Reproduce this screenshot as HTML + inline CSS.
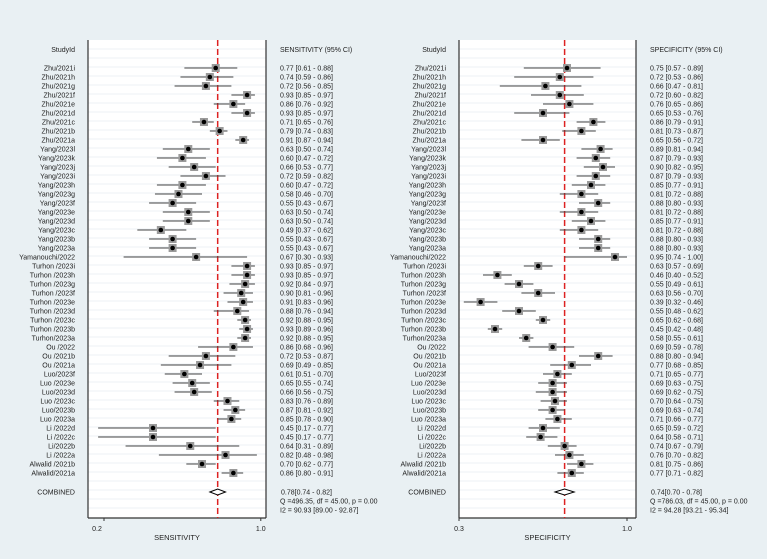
<!DOCTYPE html>
<html><head><meta charset="utf-8">
<style>
html,body{margin:0;padding:0;background:#e9f0f3;}
svg{display:block;font-family:"Liberation Sans",Arial,sans-serif;}
</style></head>
<body>
<svg id="c" width="767" height="559" xmlns="http://www.w3.org/2000/svg">
<rect x="0" y="0" width="767" height="559" fill="#e9f0f3"/>
</svg>
<script>
const studies=["Zhu/2021i","Zhu/2021h","Zhu/2021g","Zhu/2021f","Zhu/2021e","Zhu/2021d","Zhu/2021c","Zhu/2021b","Zhu/2021a","Yang/2023l","Yang/2023k","Yang/2023j","Yang/2023i","Yang/2023h","Yang/2023g","Yang/2023f","Yang/2023e","Yang/2023d","Yang/2023c","Yang/2023b","Yang/2023a","Yamanouchi/2022","Turhon /2023i","Turhon /2023h","Turhon /2023g","Turhon /2023f","Turhon /2023e","Turhon /2023d","Turhon /2023c","Turhon /2023b","Turhon/2023a","Ou /2022","Ou /2021b","Ou /2021a","Luo/2023f","Luo /2023e","Luo/2023d","Luo /2023c","Luo/2023b","Luo /2023a","Li /2022d","Li /2022c","Li/2022b","Li /2022a","Alwalid /2021b","Alwalid/2021a"];
const sens=[0.77,0.74,0.72,0.93,0.86,0.93,0.71,0.79,0.91,0.63,0.60,0.66,0.72,0.60,0.58,0.55,0.63,0.63,0.49,0.55,0.55,0.67,0.93,0.93,0.92,0.90,0.91,0.88,0.92,0.93,0.92,0.86,0.72,0.69,0.61,0.65,0.66,0.83,0.87,0.85,0.45,0.45,0.64,0.82,0.70,0.86];
const sensLo=[0.61,0.59,0.56,0.85,0.76,0.85,0.65,0.74,0.87,0.50,0.47,0.53,0.59,0.47,0.46,0.43,0.50,0.50,0.37,0.43,0.43,0.30,0.85,0.85,0.84,0.81,0.83,0.76,0.88,0.89,0.88,0.68,0.53,0.49,0.51,0.55,0.56,0.76,0.81,0.78,0.17,0.17,0.31,0.48,0.62,0.80];
const sensHi=[0.88,0.86,0.85,0.97,0.92,0.97,0.76,0.83,0.94,0.74,0.72,0.77,0.82,0.72,0.70,0.67,0.74,0.74,0.62,0.67,0.67,0.93,0.97,0.97,0.97,0.96,0.96,0.94,0.95,0.96,0.95,0.96,0.87,0.85,0.70,0.74,0.75,0.89,0.92,0.90,0.77,0.77,0.89,0.98,0.77,0.91];
const spec=[0.75,0.72,0.66,0.72,0.76,0.65,0.86,0.81,0.65,0.89,0.87,0.90,0.87,0.85,0.81,0.88,0.81,0.85,0.81,0.88,0.88,0.95,0.63,0.46,0.55,0.63,0.39,0.55,0.65,0.45,0.58,0.69,0.88,0.77,0.71,0.69,0.69,0.70,0.69,0.71,0.65,0.64,0.74,0.76,0.81,0.77];
const specLo=[0.57,0.53,0.47,0.60,0.65,0.53,0.79,0.73,0.56,0.81,0.79,0.82,0.79,0.77,0.72,0.80,0.72,0.77,0.72,0.80,0.80,0.74,0.57,0.40,0.49,0.56,0.32,0.48,0.62,0.42,0.55,0.59,0.80,0.68,0.65,0.63,0.62,0.64,0.63,0.66,0.59,0.58,0.67,0.70,0.75,0.71];
const specHi=[0.89,0.86,0.81,0.82,0.86,0.76,0.91,0.87,0.72,0.94,0.93,0.95,0.93,0.91,0.88,0.93,0.88,0.91,0.88,0.93,0.93,1.00,0.69,0.52,0.61,0.70,0.46,0.62,0.68,0.48,0.61,0.78,0.94,0.85,0.77,0.75,0.75,0.75,0.74,0.77,0.72,0.71,0.79,0.82,0.86,0.82];
const pooled=[0.78,0.74];
const pooledLo=[0.74,0.70];
const pooledHi=[0.82,0.78];
const qText=["Q =496.35, df = 45.00, p =  0.00","Q =786.03, df = 45.00, p =  0.00"];
const i2Text=["I2 = 90.93 [89.00 - 92.87]","I2 = 94.28 [93.21 - 95.34]"];
const titles=["SENSITIVITY","SPECIFICITY"];
const tickVals=[[0.2,1.0],[0.3,1.0]];
const tickLabels=[["0.2","1.0"],["0.3","1.0"]];

const NS="http://www.w3.org/2000/svg";
const svg=document.getElementById('c');
function mk(t,a,p){const e=document.createElementNS(NS,t);for(const k in a)e.setAttribute(k,a[k]);(p||svg).appendChild(e);return e;}
const f2=v=>v.toFixed(2);
const rowY=i=>68+i*9;
const panels=[
 {box:[88,266],sx:v=>104+(v-0.2)*196,lab:75,val:280,head:"SENSITIVITY (95% CI)",pt:sens,lo:sensLo,hi:sensHi,name:"sensitivity"},
 {box:[459,636],sx:v=>459+(v-0.3)*240,lab:446,val:650,head:"SPECIFICITY (95% CI)",pt:spec,lo:specLo,hi:specHi,name:"specificity"}
];
panels.forEach((P,pi)=>{
 const g=mk('g',{});
 
 
 const r=mk('rect',{x:P.box[0],y:40,width:P.box[1]-P.box[0],height:478,fill:'#fff'},g);
 
 for(let y=49;y<=514;y+=9){mk('line',{x1:P.box[0],x2:P.box[1],y1:y,y2:y,stroke:'#e6edf1','stroke-width':0.8},g);}
 mk('line',{x1:P.box[0],x2:P.box[0],y1:40,y2:518,stroke:'#333','stroke-width':1.2},g);
 mk('line',{x1:P.box[1],x2:P.box[1],y1:40,y2:518,stroke:'#333','stroke-width':1.2},g);
 mk('line',{x1:P.box[0],x2:P.box[1],y1:518,y2:518,stroke:'#333','stroke-width':1.2},g);
 const h=mk('text',{x:P.lab,y:52,'font-size':7,'text-anchor':'end',fill:'#222'},g);h.textContent='StudyId';
 
 const h2=mk('text',{x:P.val,y:52,'font-size':7,fill:'#222'},g);h2.textContent=P.head;
 
 const rx=P.sx(pooled[pi]);
 const ref=mk('line',{x1:rx,x2:rx,y1:40,y2:518,stroke:'#d22','stroke-width':1.5,'stroke-dasharray':'6,3'},g);
 
 studies.forEach((s,i)=>{
  const y=rowY(i);
  const t=mk('text',{x:P.lab,y:y+2.5,'font-size':7,'text-anchor':'end',fill:'#222'},g);t.textContent=s;
  
  const l=mk('line',{x1:P.sx(P.lo[i]),x2:P.sx(P.hi[i]),y1:y,y2:y,stroke:'#444','stroke-width':1},g);
  
  const x=P.sx(P.pt[i]);
  const sq=mk('rect',{x:x-4,y:y-4,width:8,height:8,fill:'#9a9a9a'},g);
  
  const d=mk('circle',{cx:x,cy:y,r:2.3,fill:'#000'},g);
  
  const v=mk('text',{x:P.val,y:y+2.5,'font-size':7,fill:'#222'},g);
  v.textContent=f2(P.pt[i])+' ['+f2(P.lo[i])+' - '+f2(P.hi[i])+']';
  
 });
 const cy=492;
 const ct=mk('text',{x:P.lab,y:cy+2.5,'font-size':7,'text-anchor':'end',fill:'#222'},g);ct.textContent='COMBINED';
 
 const dl=P.sx(pooledLo[pi]),dh=P.sx(pooledHi[pi]);
 const dm=mk('polygon',{points:`${dl},${cy} ${rx},${cy-3} ${dh},${cy} ${rx},${cy+3}`,fill:'#fff',stroke:'#000','stroke-width':1},g);
 
 const pt=mk('text',{x:P.val+1,y:cy+2.5,'font-size':7,fill:'#222'},g);
 pt.textContent=f2(pooled[pi])+'['+f2(pooledLo[pi])+' - '+f2(pooledHi[pi])+']';
 
 const q=mk('text',{x:P.val,y:503.5,'font-size':7,fill:'#222'},g);q.textContent=qText[pi];
 
 const i2=mk('text',{x:P.val,y:512.5,'font-size':7,fill:'#222'},g);i2.textContent=i2Text[pi];
 
 tickVals[pi].forEach((tv,k)=>{
  const tx=P.sx(tv);
  mk('line',{x1:tx,x2:tx,y1:518,y2:521,stroke:'#333','stroke-width':1},g);
  const tl=mk('text',{x:pi==0&&k==0?97:tx,y:531,'font-size':7,'text-anchor':'middle',fill:'#222'},g);tl.textContent=tickLabels[pi][k];
  
 });
 const at=mk('text',{x:(P.box[0]+P.box[1])/2,y:540,'font-size':7.5,'text-anchor':'middle',fill:'#222'},g);at.textContent=titles[pi];
 
});
</script>
</body></html>
